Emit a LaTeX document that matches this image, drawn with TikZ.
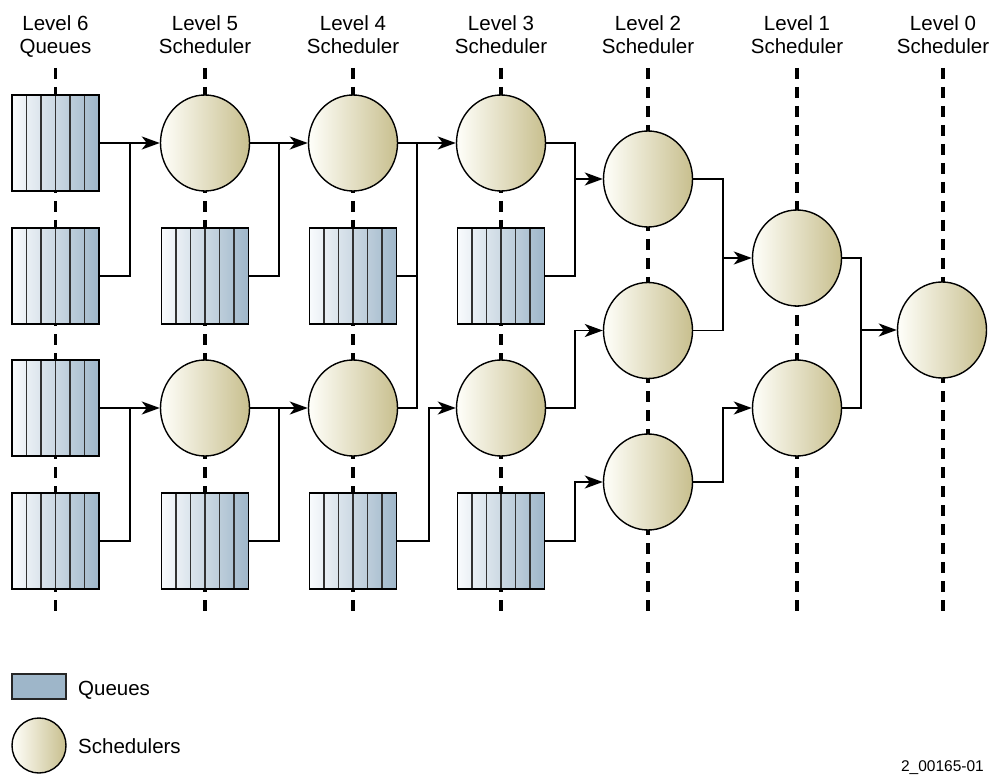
\documentclass[tikz,border=0pt]{standalone}
\usepackage{fontspec}
\setmainfont{Liberation Sans}
\usetikzlibrary{shapes.geometric,arrows.meta}
\definecolor{qlight}{RGB}{249,251,253}
\definecolor{qdark}{RGB}{158,182,201}
\definecolor{slight}{RGB}{255,255,250}
\definecolor{sdark}{RGB}{200,191,142}
\definecolor{stripecol}{RGB}{50,50,50}

\begin{document}
\begin{tikzpicture}[x=1pt,y=-1pt,
  queue/.style={draw=black, line width=1.4pt, rectangle,
    minimum width=87pt, minimum height=96pt, inner sep=0pt,
    left color=qlight, right color=qdark,
    path picture={\foreach \k in {1,...,5}{
      \draw[stripecol, line width=1.2pt]
        ([xshift=\k*14.5pt]path picture bounding box.north west) --
        ([xshift=\k*14.5pt]path picture bounding box.south west);}}},
  sched/.style={draw=black, line width=1.4pt, ellipse,
    minimum width=89pt, minimum height=96pt, inner sep=0pt,
    left color=slight, right color=sdark},
  guide/.style={line width=3.4pt, dash pattern=on 11pt off 8pt},
  link/.style={line width=1.9pt},
  flow/.style={link, -{Stealth[length=18pt,width=13pt,inset=5pt]}},
  hdr/.style={font=\fontsize{20.5}{24}\selectfont, anchor=base, inner sep=0pt},
  lbl/.style={font=\fontsize{20.5}{24}\selectfont, anchor=base west, inner sep=0pt},
]
\useasboundingbox (0,0) rectangle (995,775);

% level guide lines
\foreach \x in {55.5,205,353,501,648,797,943}
  \draw[guide] (\x,68) -- (\x,614);

% column headings
\node[hdr] (h6a) at (55.5,31) {Level 6};  \node[hdr] (h6b) at (55.5,54) {Queues};
\node[hdr] (h5a) at (205,31) {Level 5};   \node[hdr] (h5b) at (205,54) {Scheduler};
\node[hdr] (h4a) at (353,31) {Level 4};   \node[hdr] (h4b) at (353,54) {Scheduler};
\node[hdr] (h3a) at (501,31) {Level 3};   \node[hdr] (h3b) at (501,54) {Scheduler};
\node[hdr] (h2a) at (648,31) {Level 2};   \node[hdr] (h2b) at (648,54) {Scheduler};
\node[hdr] (h1a) at (797,31) {Level 1};   \node[hdr] (h1b) at (797,54) {Scheduler};
\node[hdr] (h0a) at (943,31) {Level 0};   \node[hdr] (h0b) at (943,54) {Scheduler};

% level 6 queues
\node[queue] (q61) at (55.5,143) {};
\node[queue] (q62) at (55.5,276) {};
\node[queue] (q63) at (55.5,408) {};
\node[queue] (q64) at (55.5,541) {};
% level 5
\node[sched] (s51) at (205,143) {};
\node[queue] (q52) at (205,276) {};
\node[sched] (s53) at (205,408) {};
\node[queue] (q54) at (205,541) {};
% level 4
\node[sched] (s41) at (353,143) {};
\node[queue] (q42) at (353,276) {};
\node[sched] (s43) at (353,408) {};
\node[queue] (q44) at (353,541) {};
% level 3
\node[sched] (s31) at (501,143) {};
\node[queue] (q32) at (501,276) {};
\node[sched] (s33) at (501,408) {};
\node[queue] (q34) at (501,541) {};
% level 2
\node[sched] (s21) at (648,179) {};
\node[sched] (s22) at (648,330.5) {};
\node[sched] (s23) at (648,482) {};
% level 1
\node[sched] (s11) at (797,258) {};
\node[sched] (s12) at (797,408) {};
% level 0
\node[sched] (s0) at (942,330) {};

% merge points
\coordinate (j6a) at (130,143);  \coordinate (j6b) at (130,408);
\coordinate (j5a) at (279,143);  \coordinate (j5b) at (279,408);
\coordinate (j4a) at (417,143);  \coordinate (j4b) at (429,408);
\coordinate (j3a) at (575,179);  \coordinate (j3b) at (575,330.5);
\coordinate (j3c) at (575,482);
\coordinate (j2a) at (723,258);  \coordinate (j2b) at (723,408);
\coordinate (j1) at (861,330);

% connections
\draw[flow] (q61.east) -- (s51.west);
\draw[link] (q62.east) -| (j6a);
\draw[flow] (q63.east) -- (s53.west);
\draw[link] (q64.east) -| (j6b);

\draw[flow] (s51.east) -- (s41.west);
\draw[link] (q52.east) -| (j5a);
\draw[flow] (s53.east) -- (s43.west);
\draw[link] (q54.east) -| (j5b);

\draw[flow] (s41.east) -- (s31.west);
\draw[link] (q42.east) -| (j4a);
\draw[link] (s43.east) -| (j4a);
\draw[flow] (q44.east) -| (j4b) -- (s33.west);

\draw[flow] (s31.east) -| (j3a) -- (s21.west);
\draw[link] (q32.east) -| (j3a);
\draw[flow] (s33.east) -| (j3b) -- (s22.west);
\draw[flow] (q34.east) -| (j3c) -- (s23.west);

\draw[flow] (s21.east) -| (j2a) -- (s11.west);
\draw[link] (s22.east) -| (j2a);
\draw[flow] (s23.east) -| (j2b) -- (s12.west);

\draw[flow] (s11.east) -| (j1) -- (s0.west);
\draw[link] (s12.east) -| (j1);

% legend
\node[draw=black!85, line width=1.3pt, fill=qdark, minimum width=54pt,
      minimum height=25pt, inner sep=0pt] (lq) at (39,686.5) {};
\node[lbl] (lqt) at (78,695) {Queues};
\node[sched, minimum width=54pt, minimum height=55pt] (ls) at (39,745.5) {};
\node[lbl] (lst) at (78,753) {Schedulers};

% figure number
\node[font=\fontsize{15.5}{18}\selectfont, anchor=base east, inner sep=0pt]
  (fig) at (984,771) {2\_00165-01};
\end{tikzpicture}
\end{document}
